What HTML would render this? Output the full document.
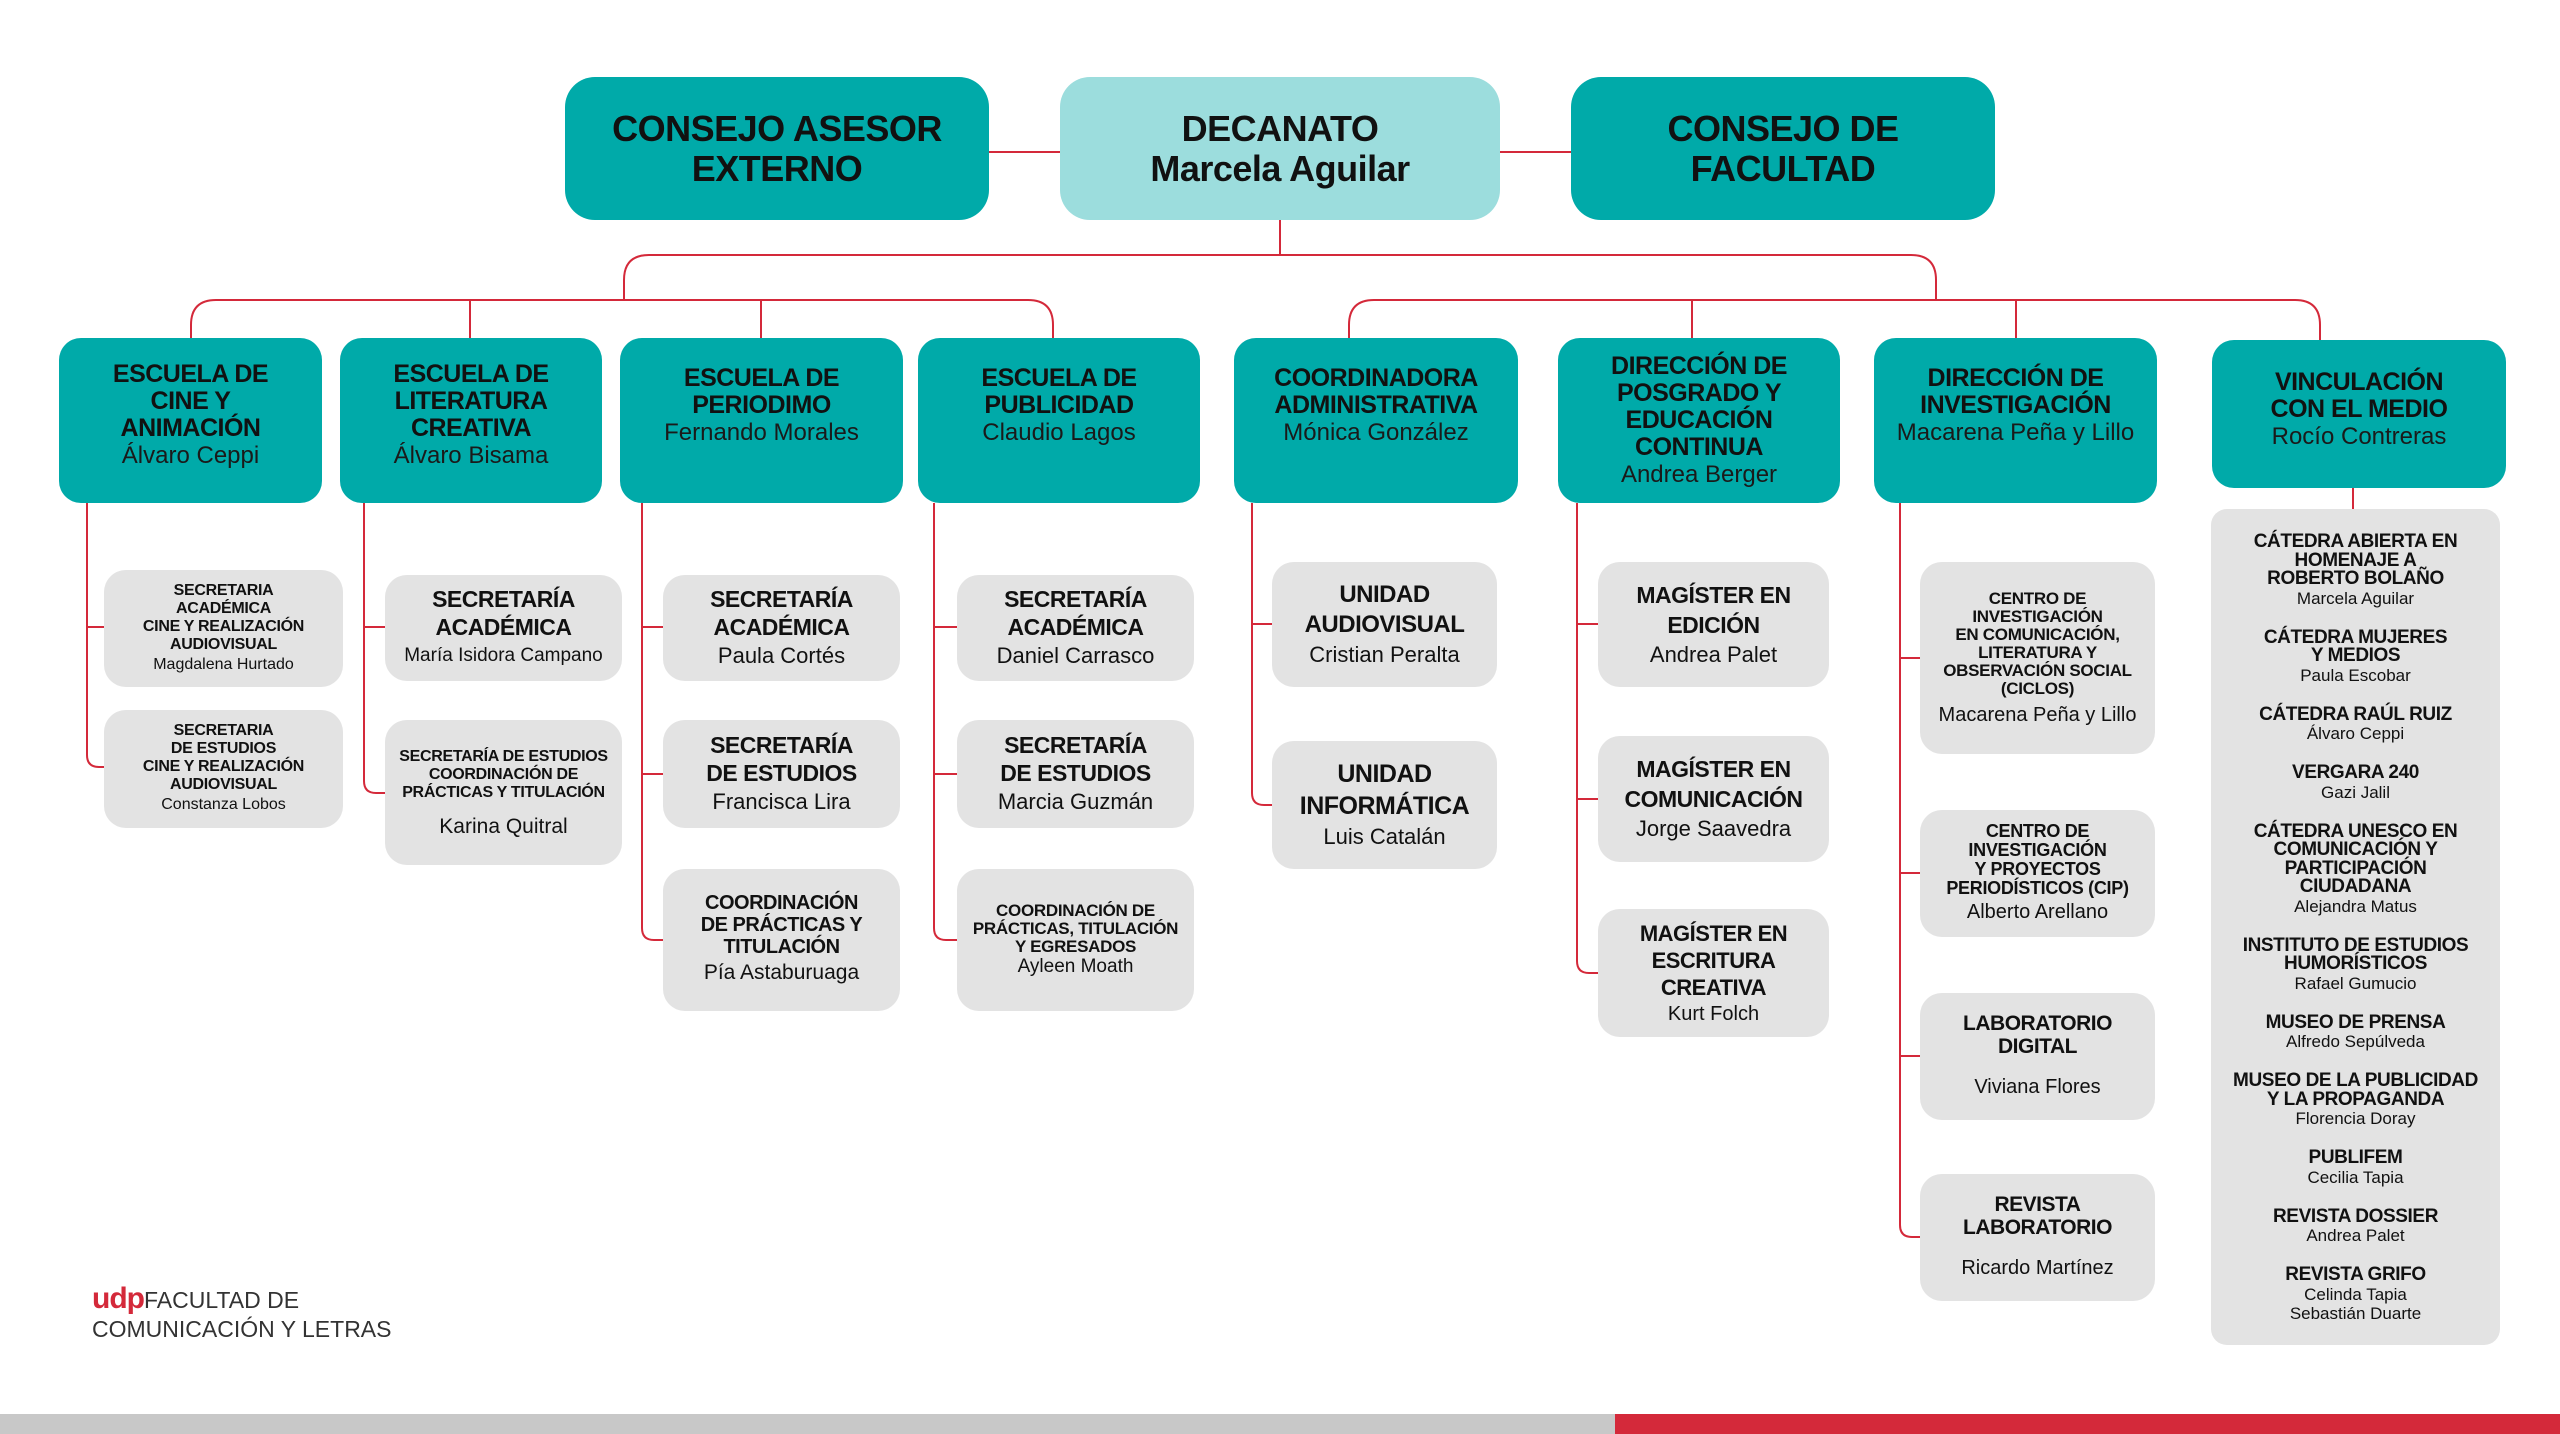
<!DOCTYPE html>
<html><head><meta charset="utf-8"><style>
*{margin:0;padding:0;box-sizing:border-box}
body{width:2560px;height:1434px;background:#fff;position:relative;overflow:hidden;font-family:"Liberation Sans",sans-serif;color:#111}
.b{position:absolute;display:flex;flex-direction:column;align-items:center;justify-content:center;text-align:center}
.t{background:#00aaa9;border-radius:22px}
.top{border-radius:30px;font-weight:bold;font-size:36px;line-height:40px;letter-spacing:-0.5px}
.l2 b{font-size:25px;line-height:27px;letter-spacing:-0.5px}
.l2 span{font-size:24px;line-height:27px;color:#1a1a1a}
.g{background:#e3e3e3;border-radius:22px}
.c b{font-size:23px;line-height:28px;letter-spacing:-0.5px}
.c span{font-size:22px;line-height:30px}
.s b{font-size:16px;line-height:18px;letter-spacing:-0.3px}
.s span{font-size:16px;line-height:22px}
.v{position:absolute;left:2211px;top:509px;width:289px;height:836px;background:#e3e3e3;border-radius:16px;text-align:center;padding-top:24px}
.v div{margin-bottom:21px}
.v b{display:block;font-size:19px;line-height:18.5px;letter-spacing:-0.4px}
.v span{display:block;font-size:17px;line-height:19px}
</style></head><body>
<svg width="2560" height="1434" style="position:absolute;left:0;top:0" fill="none" stroke="#d4293a" stroke-width="2">
<path d="M989 152H1060M1500 152H1571"/>
<path d="M1280 220V255M624 300V280Q624 255 649 255H1911Q1936 255 1936 280V300"/>
<path d="M191 338V325Q191 300 216 300H1028Q1053 300 1053 325V338M470 300V338M761 300V338"/>
<path d="M1349 338V325Q1349 300 1374 300H2295Q2320 300 2320 325V340M1692 300V338M2016 300V338M2353 488V509"/>
<path d="M87 503V755Q87 767 99 767H104M87 627H104"/>
<path d="M364 503V781Q364 793 376 793H385M364 627H385"/>
<path d="M642 503V928Q642 940 654 940H663M642 627H663M642 774H663"/>
<path d="M934 503V928Q934 940 946 940H957M934 627H957M934 774H957"/>
<path d="M1252 503V793Q1252 805 1264 805H1272M1252 624H1272"/>
<path d="M1577 503V961Q1577 973 1589 973H1598M1577 624H1598M1577 799H1598"/>
<path d="M1900 503V1225Q1900 1237 1912 1237H1920M1900 658H1920M1900 873H1920M1900 1056H1920"/>
</svg>

<div class="b t top" style="left:565px;top:77px;width:424px;height:143px">CONSEJO ASESOR<br>EXTERNO</div>
<div class="b top" style="left:1060px;top:77px;width:440px;height:143px;background:#9cdddd">DECANATO<br>Marcela Aguilar</div>
<div class="b t top" style="left:1571px;top:77px;width:424px;height:143px">CONSEJO DE<br>FACULTAD</div>

<div class="b t l2" style="left:59px;top:338px;width:263px;height:165px;padding-bottom:12px"><b>ESCUELA DE<br>CINE Y<br>ANIMACIÓN</b><span>Álvaro Ceppi</span></div>
<div class="b t l2" style="left:340px;top:338px;width:262px;height:165px;padding-bottom:12px"><b>ESCUELA DE<br>LITERATURA<br>CREATIVA</b><span>Álvaro Bisama</span></div>
<div class="b t l2" style="left:620px;top:338px;width:283px;height:165px;padding-bottom:30px"><b>ESCUELA DE<br>PERIODIMO</b><span>Fernando Morales</span></div>
<div class="b t l2" style="left:918px;top:338px;width:282px;height:165px;padding-bottom:30px"><b>ESCUELA DE<br>PUBLICIDAD</b><span>Claudio Lagos</span></div>
<div class="b t l2" style="left:1234px;top:338px;width:284px;height:165px;padding-bottom:30px"><b>COORDINADORA<br>ADMINISTRATIVA</b><span>Mónica González</span></div>
<div class="b t l2" style="left:1558px;top:338px;width:282px;height:165px"><b>DIRECCIÓN DE<br>POSGRADO Y<br>EDUCACIÓN<br>CONTINUA</b><span>Andrea Berger</span></div>
<div class="b t l2" style="left:1874px;top:338px;width:283px;height:165px;padding-bottom:30px"><b>DIRECCIÓN DE<br>INVESTIGACIÓN</b><span>Macarena Peña y Lillo</span></div>
<div class="b t l2" style="left:2212px;top:340px;width:294px;height:148px;padding-bottom:10px"><b>VINCULACIÓN<br>CON EL MEDIO</b><span>Rocío Contreras</span></div>

<div class="b g s" style="left:104px;top:570px;width:239px;height:117px"><b>SECRETARIA<br>ACADÉMICA<br>CINE Y REALIZACIÓN<br>AUDIOVISUAL</b><span>Magdalena Hurtado</span></div>
<div class="b g s" style="left:104px;top:710px;width:239px;height:118px"><b>SECRETARIA<br>DE ESTUDIOS<br>CINE Y REALIZACIÓN<br>AUDIOVISUAL</b><span>Constanza Lobos</span></div>

<div class="b g c" style="left:385px;top:575px;width:237px;height:106px"><b>SECRETARÍA<br>ACADÉMICA</b><span style="font-size:19px">María Isidora Campano</span></div>
<div class="b g s" style="left:385px;top:720px;width:237px;height:145px"><b>SECRETARÍA DE ESTUDIOS<br>COORDINACIÓN DE<br>PRÁCTICAS Y TITULACIÓN</b><span style="font-size:21px;margin-top:14px">Karina Quitral</span></div>

<div class="b g c" style="left:663px;top:575px;width:237px;height:106px"><b>SECRETARÍA<br>ACADÉMICA</b><span>Paula Cortés</span></div>
<div class="b g c" style="left:663px;top:720px;width:237px;height:108px"><b>SECRETARÍA<br>DE ESTUDIOS</b><span>Francisca Lira</span></div>
<div class="b g c" style="left:663px;top:869px;width:237px;height:142px"><b style="font-size:20px;line-height:22px">COORDINACIÓN<br>DE PRÁCTICAS Y<br>TITULACIÓN</b><span style="font-size:21px">Pía Astaburuaga</span></div>

<div class="b g c" style="left:957px;top:575px;width:237px;height:106px"><b>SECRETARÍA<br>ACADÉMICA</b><span>Daniel Carrasco</span></div>
<div class="b g c" style="left:957px;top:720px;width:237px;height:108px"><b>SECRETARÍA<br>DE ESTUDIOS</b><span>Marcia Guzmán</span></div>
<div class="b g s" style="left:957px;top:869px;width:237px;height:142px"><b style="font-size:17px">COORDINACIÓN DE<br>PRÁCTICAS, TITULACIÓN<br>Y EGRESADOS</b><span style="font-size:19px">Ayleen Moath</span></div>

<div class="b g c" style="left:1272px;top:562px;width:225px;height:125px"><b style="font-size:24px;line-height:30px">UNIDAD<br>AUDIOVISUAL</b><span>Cristian Peralta</span></div>
<div class="b g c" style="left:1272px;top:741px;width:225px;height:128px"><b style="font-size:25px;line-height:32px">UNIDAD<br>INFORMÁTICA</b><span>Luis Catalán</span></div>

<div class="b g c" style="left:1598px;top:562px;width:231px;height:125px"><b style="line-height:30px">MAGÍSTER EN<br>EDICIÓN</b><span>Andrea Palet</span></div>
<div class="b g c" style="left:1598px;top:736px;width:231px;height:126px"><b style="line-height:30px">MAGÍSTER EN<br>COMUNICACIÓN</b><span>Jorge Saavedra</span></div>
<div class="b g c" style="left:1598px;top:909px;width:231px;height:128px"><b style="font-size:22px;line-height:27px">MAGÍSTER EN<br>ESCRITURA<br>CREATIVA</b><span style="font-size:20px;line-height:26px">Kurt Folch</span></div>

<div class="b g s" style="left:1920px;top:562px;width:235px;height:192px"><b style="font-size:17px">CENTRO DE<br>INVESTIGACIÓN<br>EN COMUNICACIÓN,<br>LITERATURA Y<br>OBSERVACIÓN SOCIAL<br>(CICLOS)</b><span style="font-size:20px;margin-top:6px">Macarena Peña y Lillo</span></div>
<div class="b g s" style="left:1920px;top:810px;width:235px;height:127px"><b style="font-size:18px;line-height:19px">CENTRO DE<br>INVESTIGACIÓN<br>Y PROYECTOS<br>PERIODÍSTICOS (CIP)</b><span style="font-size:20px;line-height:28px">Alberto Arellano</span></div>
<div class="b g c" style="left:1920px;top:993px;width:235px;height:127px"><b style="font-size:21px;line-height:23px">LABORATORIO<br>DIGITAL</b><span style="font-size:20px;margin-top:14px">Viviana Flores</span></div>
<div class="b g c" style="left:1920px;top:1174px;width:235px;height:127px"><b style="font-size:21px;line-height:23px">REVISTA<br>LABORATORIO</b><span style="font-size:20px;margin-top:14px">Ricardo Martínez</span></div>

<div class="v">
<div><b>CÁTEDRA ABIERTA EN<br>HOMENAJE A<br>ROBERTO BOLAÑO</b><span>Marcela Aguilar</span></div>
<div><b>CÁTEDRA MUJERES<br>Y MEDIOS</b><span>Paula Escobar</span></div>
<div><b>CÁTEDRA RAÚL RUIZ</b><span>Álvaro Ceppi</span></div>
<div><b>VERGARA 240</b><span>Gazi Jalil</span></div>
<div><b>CÁTEDRA UNESCO EN<br>COMUNICACIÓN Y<br>PARTICIPACIÓN<br>CIUDADANA</b><span>Alejandra Matus</span></div>
<div><b>INSTITUTO DE ESTUDIOS<br>HUMORÍSTICOS</b><span>Rafael Gumucio</span></div>
<div><b>MUSEO DE PRENSA</b><span>Alfredo Sepúlveda</span></div>
<div><b>MUSEO DE LA PUBLICIDAD<br>Y LA PROPAGANDA</b><span>Florencia Doray</span></div>
<div><b>PUBLIFEM</b><span>Cecilia Tapia</span></div>
<div><b>REVISTA DOSSIER</b><span>Andrea Palet</span></div>
<div><b>REVISTA GRIFO</b><span>Celinda Tapia<br>Sebastián Duarte</span></div>
</div>

<div style="position:absolute;left:92px;top:1284px;font-size:23px;line-height:29px;color:#333"><b style="color:#d4293a;font-size:30px;letter-spacing:-1px">udp</b>FACULTAD DE<br>COMUNICACIÓN Y LETRAS</div>
<div style="position:absolute;left:0;top:1414px;width:1615px;height:20px;background:#c8c8c8"></div>
<div style="position:absolute;left:1615px;top:1414px;width:945px;height:20px;background:#d4293a"></div>
</body></html>
